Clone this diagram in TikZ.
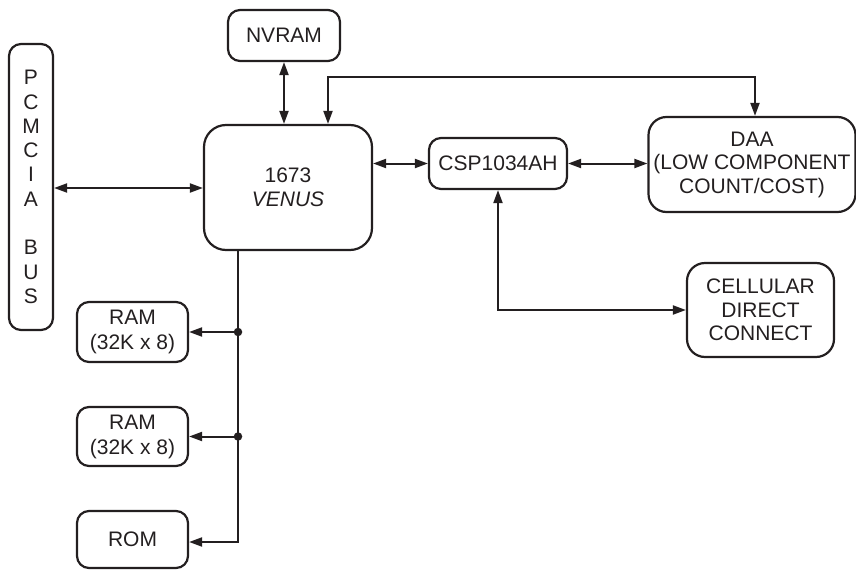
\documentclass[tikz,border=0pt]{standalone}
\usepackage{fontspec}
\setmainfont{Liberation Sans}
\usetikzlibrary{arrows.meta}
\definecolor{ink}{HTML}{231F20}
\begin{document}
\begin{tikzpicture}[x=1pt,y=-1pt,
  box/.style={draw=ink,line width=2.2pt,rounded corners=12pt,align=center,inner sep=0pt,
    font=\fontsize{21}{23.5}\selectfont,text=ink},
  conn/.style={draw=ink,line width=2pt,-{Triangle[length=13pt,width=9pt]}},
  bconn/.style={draw=ink,line width=2pt,{Triangle[length=13pt,width=9pt]}-{Triangle[length=13pt,width=9pt]}},
  dotc/.style={fill=ink,circle,inner sep=0pt,minimum size=8.5pt}]
\useasboundingbox (0,0) rectangle (856,570);
\node[box,minimum width=44pt,minimum height=286pt,font=\fontsize{21}{24.3}\selectfont] (pcm) at (31,187) {P\\C\\M\\C\\I\\A\\[24.3pt]B\\U\\S};
\node[box,minimum width=112pt,minimum height=51pt] (nvram) at (284,35.5) {NVRAM};
\node[box,rounded corners=22pt,minimum width=168pt,minimum height=125pt] (venus) at (288,187.5) {1673\\\itshape VENUS};
\node[box,minimum width=138pt,minimum height=51pt] (csp) at (498,163.5) {CSP1034AH};
\node[box,rounded corners=18pt,minimum width=207pt,minimum height=95pt] (daa) at (752,164.5) {DAA\\(LOW COMPONENT\\COUNT/COST)};
\node[box,rounded corners=18pt,minimum width=147pt,minimum height=94pt] (cell) at (760.5,310) {CELLULAR\\DIRECT\\CONNECT};
\node[box,minimum width=111pt,minimum height=60pt,font=\fontsize{21}{25}\selectfont] (ram1) at (132.5,332) {RAM\\(32K x 8)};
\node[box,minimum width=111pt,minimum height=59pt,font=\fontsize{21}{25}\selectfont] (ram2) at (132.5,436.5) {RAM\\(32K x 8)};
\node[box,minimum width=111pt,minimum height=57pt] (rom) at (132.5,539.5) {ROM};
\coordinate (t1) at (328,77);
\coordinate (t2) at (755,77);
\coordinate (bx) at (238,542);
% connectors
\draw[bconn] (pcm.east |- 0,188) -- (venus.west |- 0,188);
\draw[bconn] (nvram.south) -- (nvram.south |- venus.north);
\draw[bconn] (venus.north -| t1) -- (t1) -- (t2) -- (daa.north -| t2);
\draw[bconn] (venus.east |- csp.west) -- (csp.west);
\draw[bconn] (csp.east) -- (csp.east -| daa.west);
\draw[bconn] (csp.south) -- (csp.south |- cell.west) -- (cell.west);
\draw[conn] (venus.south -| bx) -- (bx) -- (rom.east |- bx);
\draw[conn] (ram1.east -| bx) -- (ram1.east);
\draw[conn] (ram2.east -| bx) -- (ram2.east);
\node[dotc] (d1) at (ram1.east -| bx) {};
\node[dotc] (d2) at (ram2.east -| bx) {};
\end{tikzpicture}
\end{document}
